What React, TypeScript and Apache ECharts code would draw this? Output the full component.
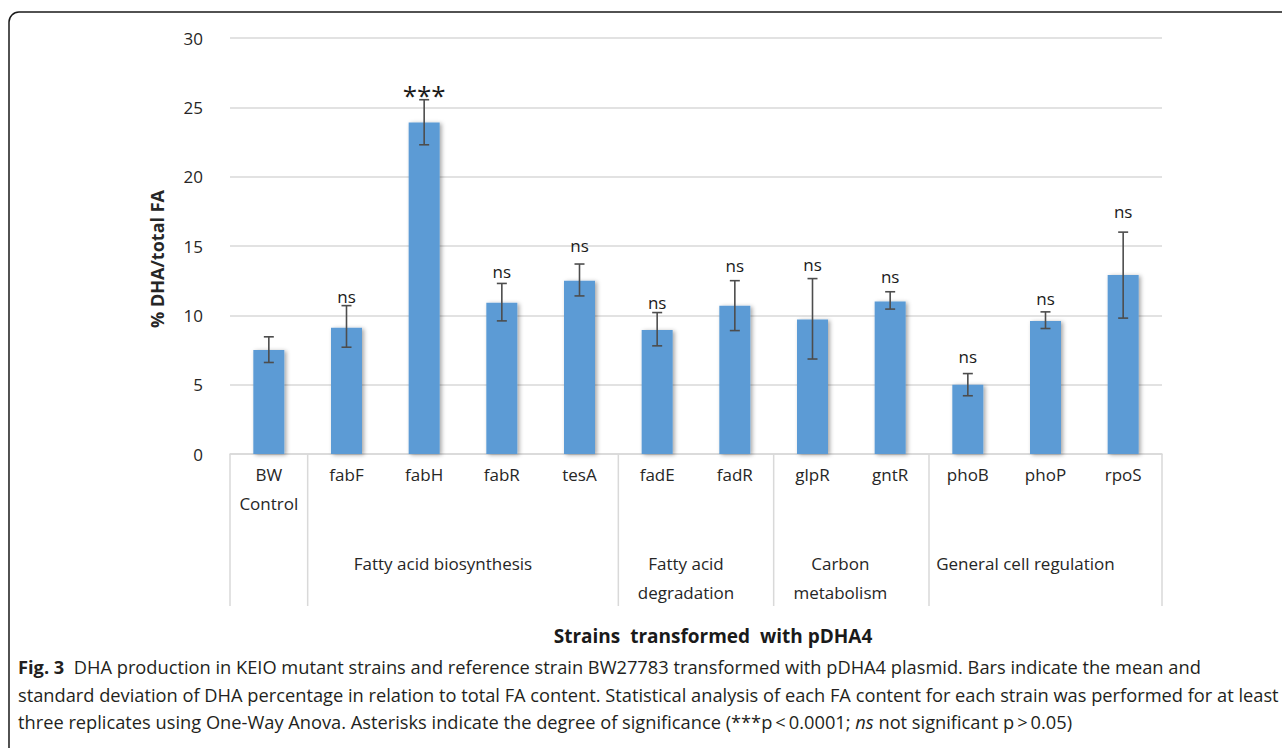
import React, { useEffect, useRef } from "react";
import * as echarts from "echarts";

const categories = ["BW\nControl", "fabF", "fabH", "fabR", "tesA", "fadE", "fadR", "glpR", "gntR", "phoB", "phoP", "rpoS"];
const means = [7.5, 9.1, 23.9, 10.9, 12.5, 8.95, 10.7, 9.7, 11.0, 5.0, 9.6, 12.9];
const errLow = [6.6, 7.7, 22.3, 9.6, 11.4, 7.8, 8.9, 6.85, 10.45, 4.2, 9.05, 9.8];
const errHigh = [8.45, 10.7, 25.55, 12.3, 13.7, 10.2, 12.5, 12.65, 11.7, 5.8, 10.25, 16.0];
const significance = ["", "ns", "***", "ns", "ns", "ns", "ns", "ns", "ns", "ns", "ns", "ns"];
// height (in % units) at which each significance mark sits
const significanceLevel = [0, 11.34, 26.03, 13.14, 15.02, 10.91, 13.58, 13.63, 12.78, 7.02, 11.2, 17.47];
const yTicks = [0, 5, 10, 15, 20, 25, 30];

const groupNames = ["", "Fatty acid biosynthesis", "Fatty acid\ndegradation", "Carbon\nmetabolism", "General cell regulation"];
const groupStart = [0, 1, 5, 7, 9];
const groupEnd = [0, 4, 6, 8, 11];
const groupDx = [0, -20, -10, -11, -20];

const yAxisName = "% DHA/total FA";
const xAxisTitle = "Strains  transformed  with pDHA4";
const captionLines = [
  "{b|Fig. 3}  DHA production in KEIO mutant strains and reference strain BW27783 transformed with pDHA4 plasmid. Bars indicate the mean and",
  "standard deviation of DHA percentage in relation to total FA content. Statistical analysis of each FA content for each strain was performed for at least",
  "three replicates using One-Way Anova. Asterisks indicate the degree of significance (***p\u2009<\u20090.0001; {i|ns} not significant p\u2009>\u20090.05)",
];

const FONT = "'Open Sans', 'Noto Sans', sans-serif";
const GRID = "#d9d9d9";
const CAP_FS = 18.25;

export default function App() {
  const ref = useRef<HTMLDivElement>(null);
  useEffect(() => {
    document.body.style.margin = "0";
    const chart = echarts.init(ref.current!, null, { renderer: "svg" });
    chart.setOption({
      animation: false,
      backgroundColor: "#fff",
      grid: { left: 230, right: 120, top: 38, bottom: 294, containLabel: false },
      xAxis: {
        type: "category",
        data: categories,
        axisLine: { show: true, lineStyle: { color: GRID, width: 1.5 } },
        axisTick: { show: false },
        axisLabel: {
          margin: 6,
          fontSize: 17,
          lineHeight: 29,
          fontFamily: FONT,
          color: "#262626",
          interval: 0,
          verticalAlign: "top",
        },
      },
      yAxis: {
        type: "value",
        min: 0,
        max: 30,
        interval: 5,
        axisLine: { show: false },
        axisTick: { show: false },
        splitLine: { lineStyle: { color: GRID, width: 1.5 } },
        axisLabel: {
          margin: 27,
          fontSize: 17,
          fontFamily: FONT,
          color: "#262626",
          formatter: (v: number) => (yTicks.includes(v) ? String(v) : ""),
        },
      },
      series: [
        {
          type: "bar",
          data: means,
          barWidth: 31,
          itemStyle: {
            color: "#5b9bd5",
            shadowColor: "rgba(0,0,0,0.35)",
            shadowBlur: 4,
            shadowOffsetX: 2,
            shadowOffsetY: 1,
          },
          z: 2,
        },
        {
          type: "custom",
          z: 5,
          data: categories.map((_, i) => [i, errLow[i], errHigh[i], significanceLevel[i]]),
          renderItem: (params: any, api: any) => {
            const i = api.value(0);
            const lo = api.coord([i, api.value(1)]);
            const hi = api.coord([i, api.value(2)]);
            const lab = api.coord([i, api.value(3)]);
            const cap = 5;
            const st = { stroke: "#4d4d4d", lineWidth: 1.6 };
            const sig = significance[i];
            const children: any[] = [
              { type: "line", shape: { x1: lo[0], y1: lo[1], x2: hi[0], y2: hi[1] }, style: st },
              { type: "line", shape: { x1: hi[0] - cap, y1: hi[1], x2: hi[0] + cap, y2: hi[1] }, style: st },
              { type: "line", shape: { x1: lo[0] - cap, y1: lo[1], x2: lo[0] + cap, y2: lo[1] }, style: st },
            ];
            if (sig) {
              const big = sig === "***";
              children.push({
                type: "text",
                z2: 10,
                style: {
                  text: sig,
                  x: hi[0],
                  y: big ? lab[1] + 2 : lab[1],
                  align: "center",
                  verticalAlign: "middle",
                  fontSize: big ? 26 : 17,
                  fontFamily: FONT,
                  fill: "#1a1a1a",
                },
              });
            }
            return { type: "group", children };
          },
        },
      ],
    });

    const xAt = (i: number) => chart.convertToPixel({ xAxisIndex: 0 }, i) as number;
    const half = (xAt(1) - xAt(0)) / 2;
    const y0 = chart.convertToPixel({ yAxisIndex: 0 }, 0) as number;
    const yTop = chart.convertToPixel({ yAxisIndex: 0 }, 30) as number;
    const sepBottom = y0 + 152;
    const graphics: any[] = [];
    const bounds: number[] = [];
    groupStart.forEach((s) => bounds.push(xAt(s) - half));
    bounds.push(xAt(groupEnd[groupEnd.length - 1]) + half);
    bounds.forEach((bx) => {
      graphics.push({
        type: "line",
        shape: { x1: bx, y1: y0, x2: bx, y2: sepBottom },
        style: { stroke: GRID, lineWidth: 1.5 },
      });
    });
    groupNames.forEach((g, k) => {
      if (!g) return;
      const cx = (xAt(groupStart[k]) + xAt(groupEnd[k])) / 2 + groupDx[k];
      graphics.push({
        type: "text",
        style: {
          text: g,
          x: cx,
          y: y0 + 94.5,
          align: "center",
          verticalAlign: "top",
          fontSize: 17,
          lineHeight: 29,
          fontFamily: FONT,
          fill: "#262626",
        },
      });
    });
    graphics.push({
      type: "text",
      x: 157,
      y: (y0 + yTop) / 2 + 13,
      rotation: Math.PI / 2,
      style: {
        text: yAxisName,
        x: 0,
        y: 0,
        align: "center",
        verticalAlign: "middle",
        fontSize: 18,
        fontWeight: "bold",
        fontFamily: FONT,
        fill: "#262626",
      },
    });
    graphics.push({
      type: "text",
      style: {
        text: xAxisTitle,
        x: 713,
        y: 636,
        align: "center",
        verticalAlign: "middle",
        fontSize: 19,
        fontWeight: "bold",
        fontFamily: FONT,
        fill: "#1a1a1a",
      },
    });
    graphics.push({
      type: "text",
      style: {
        text: captionLines.join("\n"),
        x: 18,
        y: 653,
        align: "left",
        verticalAlign: "top",
        fontSize: CAP_FS,
        lineHeight: 27.5,
        fontFamily: FONT,
        fill: "#231f20",
        rich: {
          b: { fontWeight: "bold", fontSize: CAP_FS, lineHeight: 27.5, fontFamily: FONT, fill: "#231f20" },
          i: { fontStyle: "italic", fontSize: CAP_FS, lineHeight: 27.5, fontFamily: FONT, fill: "#231f20" },
        },
      },
    });
    graphics.push({
      type: "rect",
      shape: { x: 9, y: 12, width: 1400, height: 900, r: 10 },
      style: { fill: "none", stroke: "#1a1a1a", lineWidth: 1.5 },
      z: 100,
    });
    chart.setOption({ graphic: graphics });

    return () => chart.dispose();
  }, []);
  return <div ref={ref} style={{ position: "absolute", left: 0, top: 0, width: 1282, height: 748 }} />;
}
